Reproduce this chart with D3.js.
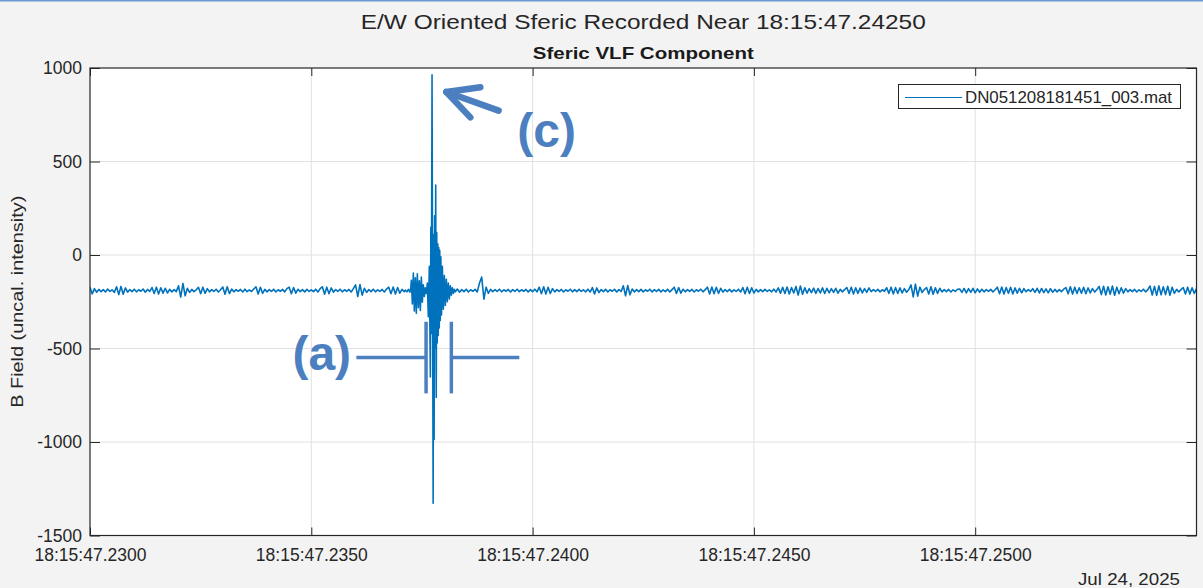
<!DOCTYPE html>
<html>
<head>
<meta charset="utf-8">
<script src="https://cdn.jsdelivr.net/npm/d3@7"></script>
<style>
  html, body { margin: 0; padding: 0; background: #f3f3f3; }
  svg { display: block; font-family: "Liberation Sans", Arial, Helvetica, sans-serif; }
</style>
</head>
<body>
<svg id="chart" width="1203" height="588"></svg>
<script>
// ---- Data: seconds past 18:15:47 and field samples (uncalibrated) ----
const sampleStep = 0.00005;

// background noise before the sferic, starting at 18:15:47.2300
const noiseBeforeStart = 0.2300;
const noiseBefore = [
  -172,-208,-180,-199,-184,-196,-185,-198,-182,-195,
  -186,-200,-170,-212,-168,-210,-176,-199,-185,-196,
  -183,-197,-186,-194,-182,-199,-184,-195,-174,-206,
  -172,-209,-175,-204,-178,-203,-184,-197,-185,-196,
  -165,-225,-152,-218,-178,-200,-184,-196,-186,-173,
  -207,-172,-205,-180,-197,-185,-195,-183,-198,-186,
  -171,-210,-170,-206,-182,-197,-185,-194,-184,-198,
  -183,-196,-187,-195,-182,-170,-209,-173,-205,-184,
  -197,-185,-195,-183,-198,-186,-194,-184,-197,-180,
  -172,-207,-174,-204,-183,-196,-185,-197,-184,-195,
  -186,-196,-183,-198,-180,-170,-210,-172,-207,-176,
  -199,-185,-195,-183,-197,-186,-194,-184,-198,-180,
  -160,-222,-158,-215,-178,-200,-185,-196,-183,-197,
  -186,-195,-184,-198,-182,-172,-207,-171,-209,-174,
  -204,-184,-196
];

// the sferic itself, irregular time stamps
const burstTimes = [
  0.237125,0.237159,0.237193,0.237227,0.237249,0.237260,0.237283,0.237306,0.237328,0.237351,
  0.237373,0.237396,0.237419,0.237441,0.237464,0.237486,0.237509,0.237531,0.237554,0.237577,
  0.237599,0.237622,0.237644,0.237667,0.237690,0.237701,0.237712,0.237728,0.237741,0.237753,
  0.237764,0.237775,0.237787,0.237798,0.237811,0.237823,0.237834,0.237845,0.237857,0.237868,
  0.237879,0.237891,0.237902,0.237913,0.237927,0.237942,0.237961,0.237983,0.238006,0.238028,
  0.238051,0.238073,0.238096,0.238119,0.238141,0.238164,0.238186,0.238209,0.238231,0.238254
];
const burstValues = [
  -188,-197,-184,-199,-175,-135,-262,-96,-300,-122,
  -312,-100,-282,-138,-296,-118,-252,-160,-222,-176,
  -206,-150,-330,-60,-652,150,-420,963,-240,-1328,
  110,-987,210,-500,374,-762,120,-470,60,-430,
  40,-390,25,-350,-10,-320,-60,-290,-110,-270,
  -130,-250,-150,-235,-165,-215,-175,-205,-183,-197
];

// background noise after the sferic, starting at 18:15:47.2383
const noiseAfterStart = 0.2383;
const noiseAfter = [
  -182,-199,-185,-196,-183,-198,-186,-194,-184,-197,
  -150,-118,-236,-172,-205,-184,-196,-185,-195,-183,
  -197,-186,-194,-184,-198,-185,-195,-183,-196,-186,
  -194,-184,-198,-185,-196,-183,-197,-172,-207,-170,
  -209,-173,-206,-180,-197,-185,-195,-184,-198,-186,
  -194,-183,-197,-185,-196,-184,-195,-186,-197,-183,
  -198,-174,-208,-176,-201,-185,-196,-184,-197,-186,
  -194,-183,-198,-185,-195,-165,-218,-163,-213,-182,
  -198,-185,-196,-184,-197,-186,-194,-183,-198,-185,
  -195,-184,-197,-186,-196,-183,-198,-185,-172,-206,
  -174,-204,-183,-197,-185,-195,-184,-198,-186,-194,
  -183,-197,-185,-172,-208,-171,-207,-173,-205,-178,
  -199,-185,-196,-184,-197,-186,-195,-183,-198,-174,
  -207,-172,-206,-175,-203,-184,-197,-185,-196,-184,
  -195,-186,-197,-183,-198,-176,-204,-173,-206,-171,
  -208,-174,-203,-168,-214,-166,-210,-175,-204,-180,
  -201,-177,-205,-179,-203,-176,-206,-178,-202,-180,
  -200,-178,-204,-184,-197,-185,-174,-206,-172,-208,
  -175,-205,-177,-203,-180,-200,-176,-196,-185,-195,
  -184,-197,-186,-194,-175,-205,-172,-208,-174,-206,
  -176,-203,-180,-199,-185,-160,-224,-156,-220,-172,
  -200,-185,-174,-208,-170,-210,-175,-205,-178,-197,
  -185,-196,-184,-198,-186,-195,-183,-182,-200,-179,
  -203,-180,-200,-178,-202,-181,-199,-183,-197,-185,
  -195,-184,-197,-186,-172,-207,-171,-209,-174,-205,
  -173,-208,-176,-204,-178,-202,-180,-196,-185,-195,
  -180,-200,-178,-203,-179,-201,-181,-202,-180,-199,
  -184,-197,-185,-196,-183,-174,-207,-170,-209,-172,
  -206,-175,-204,-173,-207,-176,-203,-180,-198,-184,
  -168,-212,-167,-214,-170,-210,-166,-215,-172,-207,
  -175,-204,-180,-197,-185,-196,-184,-198,-186,-195,
  -183,-197,-185,-166,-214,-168,-216,-165,-213,-170,
  -212,-167,-215,-172,-205,-184,-197,-185,-174,-208,
  -172,-209,-175,-205,-180
];

// axes
const timeDomain = [0.2300, 0.2550];
const fieldDomain = [-1500, 1000];
const xTickValues = [0.2300, 0.2350, 0.2400, 0.2450, 0.2500];
const xTickLabels = ["18:15:47.2300", "18:15:47.2350", "18:15:47.2400", "18:15:47.2450", "18:15:47.2500"];
const yTickValues = [-1500, -1000, -500, 0, 500, 1000];
const yTickLabels = ["-1500", "-1000", "-500", "0", "500", "1000"];

const titleText = "E/W Oriented Sferic Recorded Near 18:15:47.24250";
const subtitleText = "Sferic VLF Component";
const yLabelText = "B Field (uncal. intensity)";
const dateText = "Jul 24, 2025";
const seriesName = "DN051208181451_003.mat";

// annotation anchors in data space [time, field]
const bracketLeftT = 0.237593, bracketRightT = 0.238164;
const bracketLineStartT = 0.236018, bracketLineEndT = 0.239700;
const bracketLevel = -548, bracketTop = -357, bracketBottom = -740;
const labelA = { text: "(a)", t: 0.234573, v: -615 };
const labelC = { text: "(c)", t: 0.239655, v: 577 };
const arrowTip = [0.238051, 872], arrowTail = [0.239232, 772];
const arrowWingA = [0.238819, 897], arrowWingB = [0.238593, 736];

// ---- Build ----
const W = 1203, H = 588;
const plot = { left: 90, right: 1196.5, top: 68, bottom: 535.5 };
const svg = d3.select("#chart");

const x = d3.scaleLinear().domain(timeDomain).range([plot.left, plot.right]);
const y = d3.scaleLinear().domain(fieldDomain).range([plot.bottom, plot.top]);

// figure background + window edge
svg.append("rect").attr("width", W).attr("height", H).attr("fill", "#f3f3f3");
svg.append("line").attr("x1", 0).attr("x2", W).attr("y1", 0.75).attr("y2", 0.75)
  .attr("stroke", "#6b9bd6").attr("stroke-width", 1.5);

// plot background
svg.append("rect").attr("x", plot.left).attr("y", plot.top)
  .attr("width", plot.right - plot.left).attr("height", plot.bottom - plot.top)
  .attr("fill", "#ffffff");

// grid
const grid = svg.append("g").attr("stroke", "#e1e1e1").attr("stroke-width", 1);
xTickValues.filter(t => t > timeDomain[0] && t < timeDomain[1]).forEach(t => {
  grid.append("line").attr("x1", x(t)).attr("x2", x(t)).attr("y1", plot.top).attr("y2", plot.bottom);
});
yTickValues.filter(v => v > fieldDomain[0] && v < fieldDomain[1]).forEach(v => {
  grid.append("line").attr("x1", plot.left).attr("x2", plot.right).attr("y1", y(v)).attr("y2", y(v));
});

// series
const series = [];
noiseBefore.forEach((v, i) => series.push([noiseBeforeStart + i * sampleStep, v]));
burstTimes.forEach((t, i) => series.push([t, burstValues[i]]));
noiseAfter.forEach((v, i) => series.push([noiseAfterStart + i * sampleStep, v]));

svg.append("clipPath").attr("id", "plotClip").append("rect")
  .attr("x", plot.left).attr("y", plot.top)
  .attr("width", plot.right - plot.left).attr("height", plot.bottom - plot.top);

svg.append("path")
  .datum(series)
  .attr("clip-path", "url(#plotClip)")
  .attr("fill", "none")
  .attr("stroke", "#0072bd")
  .attr("stroke-width", 1.6)
  .attr("stroke-linejoin", "round")
  .attr("d", d3.line().x(d => x(d[0])).y(d => y(d[1])));

// axes (inward ticks, mirrored on top/right)
const axisColor = "#262626";
const tickFont = 17.5;

const gx = svg.append("g").attr("transform", `translate(0,${plot.bottom})`)
  .call(d3.axisBottom(x).tickValues(xTickValues)
    .tickFormat((d, i) => xTickLabels[i]).tickSize(-8).tickPadding(13));
const gxTop = svg.append("g").attr("transform", `translate(0,${plot.top})`)
  .call(d3.axisTop(x).tickValues(xTickValues).tickFormat("").tickSize(-8));
const gy = svg.append("g").attr("transform", `translate(${plot.left},0)`)
  .call(d3.axisLeft(y).tickValues(yTickValues)
    .tickFormat((d, i) => yTickLabels[i]).tickSize(-10).tickPadding(8));
const gyRight = svg.append("g").attr("transform", `translate(${plot.right},0)`)
  .call(d3.axisRight(y).tickValues(yTickValues).tickFormat("").tickSize(-10));

[gx, gxTop, gy, gyRight].forEach(g => {
  g.select(".domain").remove();
  g.selectAll(".tick line").attr("stroke", axisColor).attr("stroke-width", 1);
  g.selectAll(".tick text").attr("fill", "#262626")
    .style("font-size", tickFont + "px")
    .style("font-family", "'Liberation Sans', Arial, sans-serif");
});

// box
svg.append("rect").attr("x", plot.left).attr("y", plot.top)
  .attr("width", plot.right - plot.left).attr("height", plot.bottom - plot.top)
  .attr("fill", "none").attr("stroke", axisColor).attr("stroke-width", 1.2);

// titles
svg.append("text").attr("x", (plot.left + plot.right) / 2).attr("y", 28.5)
  .attr("text-anchor", "middle").attr("fill", "#262626")
  .style("font-size", "21px")
  .attr("textLength", 565).attr("lengthAdjust", "spacingAndGlyphs")
  .text(titleText);
svg.append("text").attr("x", (plot.left + plot.right) / 2).attr("y", 58.5)
  .attr("text-anchor", "middle").attr("fill", "#1a1a1a")
  .style("font-size", "17px").style("font-weight", "bold")
  .attr("textLength", 221).attr("lengthAdjust", "spacingAndGlyphs")
  .text(subtitleText);

// y label
svg.append("text")
  .attr("transform", `translate(23,${(plot.top + plot.bottom) / 2}) rotate(-90)`)
  .attr("text-anchor", "middle").attr("fill", "#262626")
  .style("font-size", "17px")
  .attr("textLength", 212).attr("lengthAdjust", "spacingAndGlyphs")
  .text(yLabelText);

// date under the time axis
svg.append("text").attr("x", 1180).attr("y", 585)
  .attr("text-anchor", "end").attr("fill", "#262626")
  .style("font-size", "17px")
  .attr("textLength", 102).attr("lengthAdjust", "spacingAndGlyphs")
  .text(dateText);

// legend
const legend = svg.append("g");
legend.append("rect").attr("x", 898.5).attr("y", 84.5).attr("width", 282).attr("height", 24)
  .attr("fill", "#ffffff").attr("stroke", axisColor).attr("stroke-width", 1);
legend.append("line").attr("x1", 905).attr("x2", 962).attr("y1", 97.5).attr("y2", 97.5)
  .attr("stroke", "#0072bd").attr("stroke-width", 1.2);
legend.append("text").attr("x", 965).attr("y", 103)
  .attr("fill", "#262626").style("font-size", "17px")
  .attr("textLength", 207).attr("lengthAdjust", "spacingAndGlyphs")
  .text(seriesName);

// annotations
const noteColor = "#4c7fc0";
const notes = svg.append("g").attr("stroke", noteColor).attr("fill", "none");
notes.append("line").attr("x1", x(bracketLineStartT)).attr("x2", x(bracketLeftT))
  .attr("y1", y(bracketLevel)).attr("y2", y(bracketLevel)).attr("stroke-width", 3.5);
notes.append("line").attr("x1", x(bracketRightT)).attr("x2", x(bracketLineEndT))
  .attr("y1", y(bracketLevel)).attr("y2", y(bracketLevel)).attr("stroke-width", 3.5);
[bracketLeftT, bracketRightT].forEach(t => {
  notes.append("line").attr("x1", x(t)).attr("x2", x(t))
    .attr("y1", y(bracketTop)).attr("y2", y(bracketBottom)).attr("stroke-width", 3.5);
});
notes.append("path")
  .attr("d", `M${x(arrowWingA[0])},${y(arrowWingA[1])} L${x(arrowTip[0])},${y(arrowTip[1])} L${x(arrowWingB[0])},${y(arrowWingB[1])}`)
  .attr("stroke-width", 6.5).attr("stroke-linecap", "round").attr("stroke-linejoin", "round");
notes.append("line")
  .attr("x1", x(arrowTip[0])).attr("y1", y(arrowTip[1]))
  .attr("x2", x(arrowTail[0])).attr("y2", y(arrowTail[1]))
  .attr("stroke-width", 6.5).attr("stroke-linecap", "round");

[labelA, labelC].forEach(l => {
  svg.append("text").attr("x", x(l.t)).attr("y", y(l.v))
    .attr("fill", noteColor).style("font-size", "48px").style("font-weight", "bold")
    .text(l.text);
});
</script>
</body>
</html>
